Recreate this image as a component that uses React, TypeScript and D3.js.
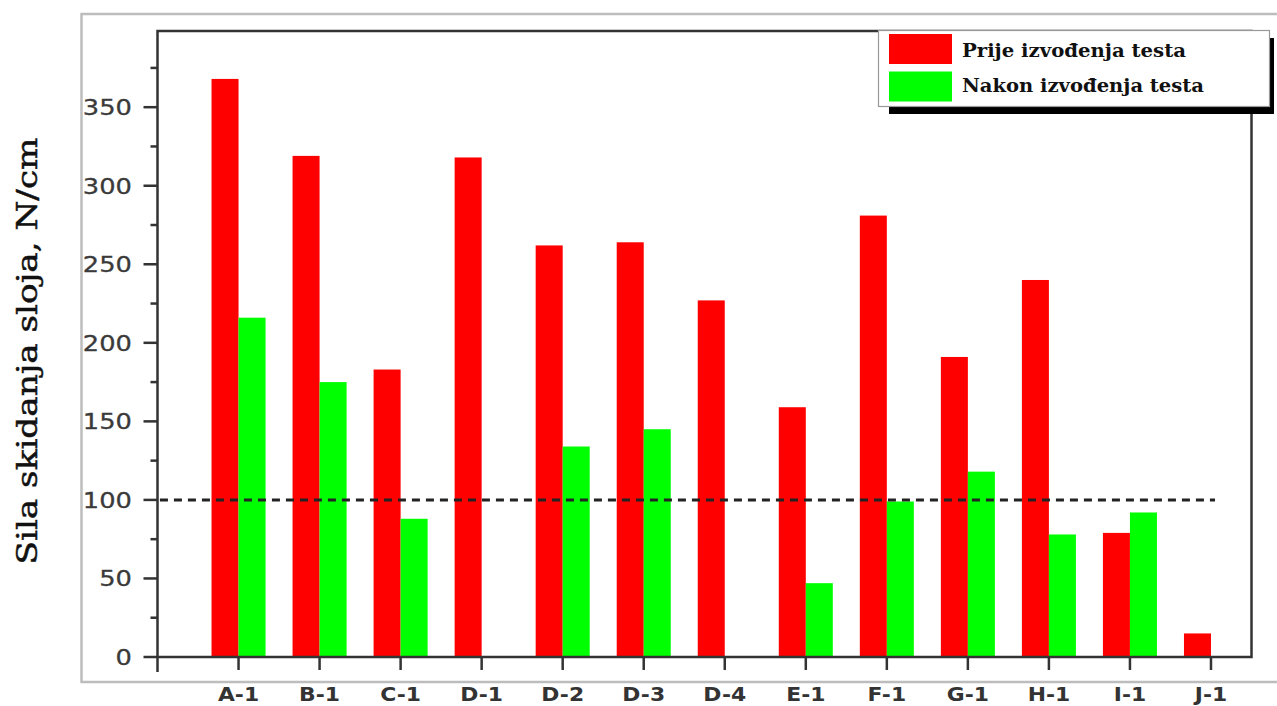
import React from "react";
import * as d3 from "d3";

const categories = ["A-1", "B-1", "C-1", "D-1", "D-2", "D-3", "D-4", "E-1", "F-1", "G-1", "H-1", "I-1", "J-1"];
const beforeValues = [368, 319, 183, 318, 262, 264, 227, 159, 281, 191, 240, 79, 15];
const afterValues: (number | null)[] = [216, 175, 88, null, 134, 145, null, 47, 99, 118, 78, 92, null];
const majorTicks = [0, 50, 100, 150, 200, 250, 300, 350];
const minorTicks = [25, 75, 125, 175, 225, 275, 325, 375];
const threshold = 100;
const legendLabels = ["Prije izvođenja testa", "Nakon izvođenja testa"];
const yTitle = "Sila skidanja sloja, N/cm";

const W = 1277;
const H = 706;
const RED = "#ff0000";
const GREEN = "#00ff00";
const AXIS = "#333";

export default function App() {
  const x = d3.scaleLinear().domain([-1, 12.5]).range([157.5, 1251.5]);
  const y = d3.scaleLinear().domain([0, 398.5]).range([657, 31]);
  const bw = 1 / 3;

  return (
    <svg width={W} height={H} style={{ position: "absolute", left: 0, top: 0, background: "#fff" }}>
      <rect x={0} y={0} width={W} height={H} fill="#fff" />
      {/* outer frame */}
      <path d={`M${W},14 H81.5 V682 H${W}`} fill="none" stroke="#bdbdbd" strokeWidth={2.5} />

      {/* bars */}
      {categories.map((c, i) => (
        <rect key={"b" + c} x={x(i - bw)} y={y(beforeValues[i])} width={x(i) - x(i - bw)} height={y(0) - y(beforeValues[i])} fill={RED} />
      ))}
      {categories.map((c, i) =>
        afterValues[i] == null ? null : (
          <rect key={"a" + c} x={x(i)} y={y(afterValues[i] as number)} width={x(i + bw) - x(i)} height={y(0) - y(afterValues[i] as number)} fill={GREEN} />
        )
      )}

      {/* threshold line */}
      <line x1={x(-0.97)} x2={x(12.05)} y1={y(threshold)} y2={y(threshold)} stroke="#222" strokeWidth={3} strokeDasharray="8,6" />

      {/* plot frame */}
      <rect x={x(-1)} y={y(398.5)} width={x(12.5) - x(-1)} height={y(0) - y(398.5)} fill="none" stroke={AXIS} strokeWidth={2.5} />

      {/* y ticks */}
      {majorTicks.map((t) => (
        <g key={"yt" + t}>
          <line x1={x(-1) - 14} x2={x(-1)} y1={y(t)} y2={y(t)} stroke={AXIS} strokeWidth={2.5} />
          <text
            transform={`translate(132,${y(t) + 8}) scale(1.17,1)`}
            textAnchor="end"
            fontFamily="DejaVu Sans"
            fontSize={22}
            fill="#3a3a3a"
            stroke="#3a3a3a"
            strokeWidth={0.3}
          >
            {t}
          </text>
        </g>
      ))}
      {minorTicks.map((t) => (
        <line key={"ym" + t} x1={x(-1) - 7} x2={x(-1)} y1={y(t)} y2={y(t)} stroke={AXIS} strokeWidth={2.5} />
      ))}

      {/* x ticks */}
      <line x1={x(-1)} x2={x(-1)} y1={y(0)} y2={y(0) + 15} stroke={AXIS} strokeWidth={2.5} />
      {categories.map((c, i) => (
        <g key={"xt" + c}>
          <line x1={x(i)} x2={x(i)} y1={y(0)} y2={y(0) + 13} stroke={AXIS} strokeWidth={2.5} />
          <text
            transform={`translate(${x(i)},701) scale(1.15,1)`}
            textAnchor="middle"
            fontFamily="DejaVu Sans"
            fontWeight="bold"
            fontSize={19}
            fill="#333"
          >
            {c}
          </text>
        </g>
      ))}

      {/* y title */}
      <text
        transform={`translate(37,351) rotate(-90)`}
        textAnchor="middle"
        fontFamily="DejaVu Serif"
        fontSize={28}
        fill="#111"
        stroke="#111"
        strokeWidth={0.5}
        textLength={427}
        lengthAdjust="spacingAndGlyphs"
      >
        {yTitle}
      </text>

      {/* legend */}
      <rect x={889} y={38} width={385} height={76} fill="#000" />
      <rect x={878.5} y={30.5} width={391} height={76} fill="#fff" stroke="#999" strokeWidth={1.2} />
      <rect x={889} y={34} width={63} height={30} fill={RED} />
      <rect x={889} y={71.5} width={63} height={30} fill={GREEN} />
      <text x={962} y={57} fontFamily="DejaVu Serif" fontWeight="bold" fontSize={19} fill="#111" textLength={224} lengthAdjust="spacingAndGlyphs">
        {legendLabels[0]}
      </text>
      <text x={962} y={92} fontFamily="DejaVu Serif" fontWeight="bold" fontSize={19} fill="#111" textLength={242} lengthAdjust="spacingAndGlyphs">
        {legendLabels[1]}
      </text>
    </svg>
  );
}
